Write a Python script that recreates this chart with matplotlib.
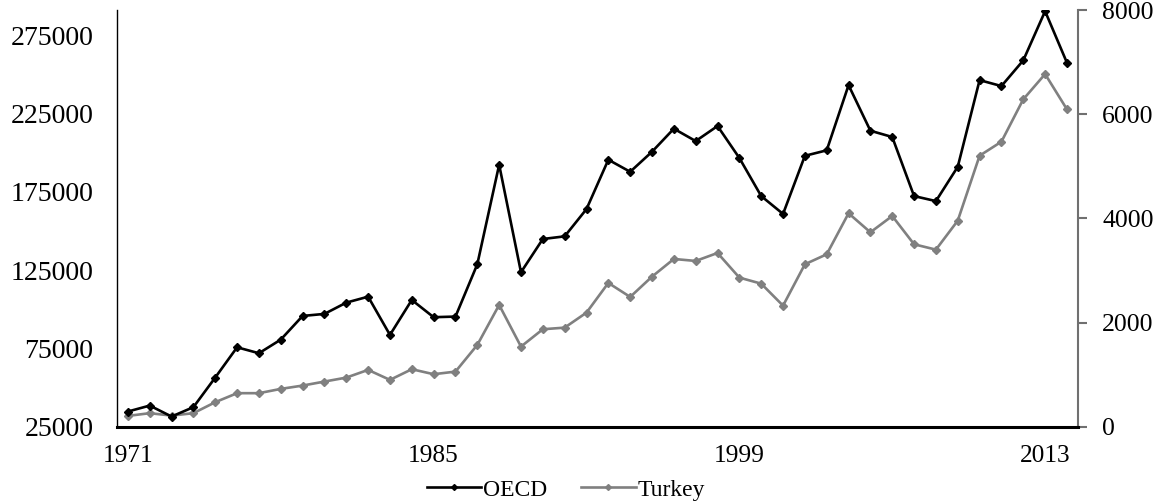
import matplotlib
matplotlib.use("Agg")
import matplotlib.pyplot as plt
from matplotlib.lines import Line2D

years = list(range(1971, 2015))
oecd = [34800, 38600, 31600, 37600, 56500, 75800, 72000, 80700, 95800, 97100,
        104300, 108100, 83700, 106000, 95000, 95400, 128800, 192300, 123700, 144900,
        146600, 164000, 195500, 187800, 200600, 215300, 207400, 217000, 196600, 172300,
        160900, 198000, 201500, 243100, 214000, 210000, 172300, 169100, 191000, 246300,
        242500, 258900, 290300, 257400]
turkey = [211, 263, 217, 263, 474, 647, 647, 729, 793, 870,
          946, 1094, 902, 1107, 1011, 1061, 1573, 2341, 1541, 1874,
          1905, 2193, 2763, 2494, 2884, 3223, 3185, 3338, 2865, 2749,
          2327, 3121, 3313, 4100, 3735, 4048, 3505, 3402, 3958, 5205,
          5474, 6287, 6772, 6095]
left_ticks = [25000, 75000, 125000, 175000, 225000, 275000]
right_ticks = [0, 2000, 4000, 6000, 8000]
xtick_years = [1971, 1985, 1999, 2013]

plt.rcParams['font.family'] = ['Liberation Serif', 'DejaVu Serif']
plt.rcParams['font.size'] = 18

fig = plt.figure(figsize=(11.64, 5.04), dpi=100)
ax = fig.add_axes([0.1005, 0.153, 0.8255, 0.827])
ax2 = ax.twinx()

x = list(range(len(years)))
ax.plot(x, oecd, color='black', lw=1.9, marker='D', ms=4, zorder=3)
ax2.plot(x, turkey, color='#808080', lw=1.9, marker='D', ms=4, zorder=2)
ax.set_zorder(ax2.get_zorder() + 1)
ax.patch.set_visible(False)

ax.set_xlim(-0.5, len(years) - 0.5)
ax.set_ylim(25000, 291000)
ax2.set_ylim(0, 8000)
ax.set_yticks(left_ticks)
ax.set_yticklabels([str(v) for v in left_ticks], fontsize=20)
ax2.set_yticks(right_ticks)
ax2.set_yticklabels([str(v) for v in right_ticks], fontsize=18.5)
ax.set_xticks([years.index(y) for y in xtick_years])
ax.set_xticklabels([str(y) for y in xtick_years], fontsize=18.3)

ax.tick_params(axis='x', length=0, pad=13)
ax.tick_params(axis='y', length=0, pad=17)
ax2.tick_params(axis='y', length=6.5, width=1.5, color='#707070', pad=11)

for a in (ax, ax2):
    a.spines['top'].set_visible(False)
ax.spines['right'].set_visible(False)
ax2.spines['left'].set_visible(False)
ax2.spines['bottom'].set_visible(False)
ax.spines['left'].set_color('black')
ax.spines['left'].set_linewidth(1.0)
ax.spines['bottom'].set_linewidth(2.2)
ax2.spines['right'].set_color('#707070')
ax2.spines['right'].set_linewidth(1.5)

handles = [Line2D([], [], color='black', lw=1.9, marker='D', ms=3),
           Line2D([], [], color='#808080', lw=1.9, marker='D', ms=3)]
fig.legend(handles, ['OECD', 'Turkey'], loc='center', bbox_to_anchor=(0.486, 0.028),
           ncol=2, frameon=False, handlelength=2.3, handletextpad=0.08,
           columnspacing=1.45, fontsize=17, borderpad=0, borderaxespad=0)

fig.savefig('out.png', dpi=100)
